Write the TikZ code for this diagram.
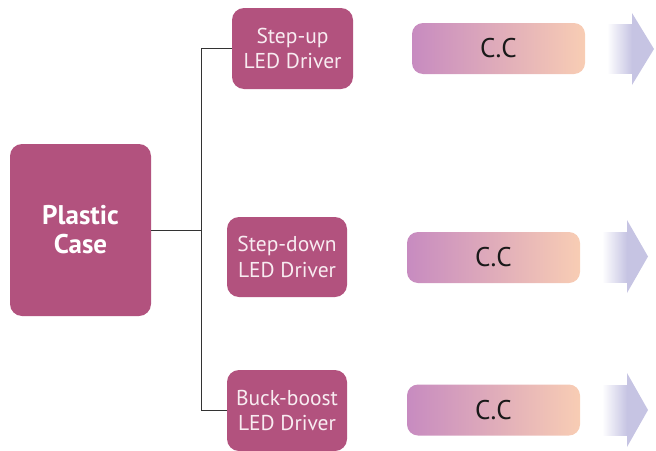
\documentclass[tikz,border=0pt]{standalone}
\usepackage{fontspec}
\setmainfont{PT Sans}
\definecolor{mag}{HTML}{B2527E}
\definecolor{magtext}{HTML}{F8ECF1}
\definecolor{ccl}{HTML}{C78BC0}
\definecolor{ccr}{HTML}{F8CDB4}
\definecolor{lav}{HTML}{C6C4E3}
\definecolor{lnk}{HTML}{333333}
\tikzset{
  magbox/.style={fill=mag, rounded corners=12pt, inner sep=0pt, align=center, text=magtext,
    font=\fontsize{21.5}{25.5}\selectfont},
  ccbox/.style={rounded corners=11pt, inner sep=0pt, left color=ccl, right color=ccr,
    minimum width=173pt, minimum height=51pt, text=black!90, font=\fontsize{27}{30}\selectfont},
  link/.style={draw=lnk, line width=1pt},
  arrbody/.style={left color=white, right color=lav},
  arrhead/.style={fill=lav},
}
\begin{document}
\begin{tikzpicture}[x=1pt,y=-1pt]
\useasboundingbox (0,0) rectangle (656,450);
\node[magbox, minimum width=141pt, minimum height=172pt, text=white,
  font=\bfseries\fontsize{27}{29}\selectfont] (pc) at (80.5,230) {Plastic\\Case};
\node[magbox, minimum width=121pt, minimum height=81pt] (su) at (292.5,48.5) {Step-up\\LED Driver};
\node[magbox, minimum width=120pt, minimum height=80pt] (sd) at (287,257) {Step-down\\LED Driver};
\node[magbox, minimum width=120pt, minimum height=81pt] (bb) at (287,410.5) {Buck-boost\\LED Driver};
\node[ccbox] (c1) at (498.5,48.5) {C.C};
\node[ccbox] (c2) at (493.5,257.5) {C.C};
\node[ccbox] (c3) at (493.5,410) {C.C};
% arrows
\shade[arrbody] (607,24) rectangle (632,73);
\fill[arrhead] (632,13) -- (632,85) -- (654,49) -- cycle;
\shade[arrbody] (602,232) rectangle (627,282);
\fill[arrhead] (627,220) -- (627,293) -- (648,256.5) -- cycle;
\shade[arrbody] (602,385) rectangle (627,435);
\fill[arrhead] (627,373) -- (627,447) -- (648,410) -- cycle;
% connectors
\draw[link] (pc.east) -- ++(51,0);
\draw[link] (su.west) -- ++(-30,0) |- (bb.west);
\end{tikzpicture}
\end{document}
